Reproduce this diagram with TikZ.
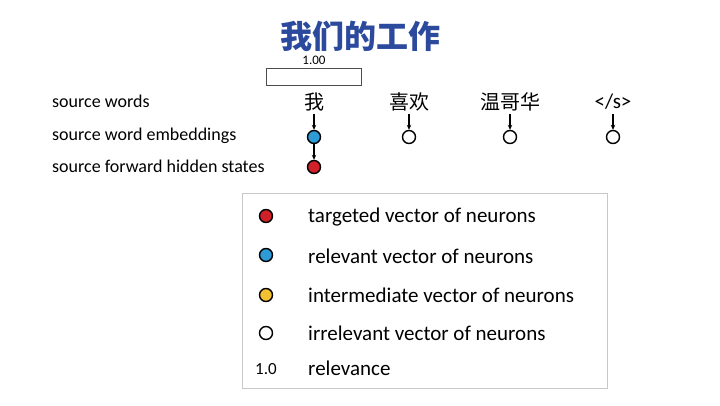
\documentclass[tikz,border=0pt]{standalone}
\usepackage{fontspec}
\setmainfont{Carlito}
\newfontfamily\cjk{Noto Sans CJK SC}
\usetikzlibrary{arrows.meta}
\definecolor{titleblue}{HTML}{2B4A9E}
\definecolor{nred}{HTML}{D0202A}
\definecolor{nblue}{HTML}{2E9BD6}
\definecolor{nyellow}{HTML}{F2C232}
\definecolor{boxgray}{HTML}{C8C8C8}
\tikzset{
  neuron/.style={circle, draw=black, line width=1.4pt, minimum size=13pt, inner sep=0pt},
  lbl/.style={anchor=west, inner sep=0pt, font=\fontsize{18}{20}\selectfont},
  word/.style={inner sep=0pt, font=\cjk\fontsize{20}{22}\selectfont},
  leg/.style={anchor=west, inner sep=0pt, font=\fontsize{21}{23}\selectfont},
  arr/.style={-{Stealth[length=5pt,width=4.5pt]}, line width=1.2pt}
}
\begin{document}
\begin{tikzpicture}[x=1pt,y=-1pt]
\useasboundingbox (0,0) rectangle (720,405);
\fill[white] (0,0) rectangle (720,405);
\node[font=\cjk\bfseries\fontsize{32}{34}\selectfont, text=titleblue, inner sep=0pt] (title) at (360,36) {我们的工作};
\node[font=\fontsize{13}{15}\selectfont, inner sep=0pt] (rel) at (314,60) {1.00};
\node[draw=black!70, line width=0.6pt, minimum width=95pt, minimum height=17pt, inner sep=0pt] (bar) at (313.5,77) {};
\node[lbl] (l1) at (52,101) {source words};
\node[lbl] (l2) at (52,136) {source word embeddings};
\node[lbl] (l3) at (52,166) {source forward hidden states};
\node[word] (w1) at (314,102) {我};
\node[word] (w2) at (409,102) {喜欢};
\node[word] (w3) at (510,102) {温哥华};
\node[word, font=\fontsize{21}{23}\selectfont] (w4) at (613,102) {</s>};
\node[neuron, fill=nblue] (e1) at (314,137) {};
\node[neuron, fill=white] (e2) at (409,137) {};
\node[neuron, fill=white] (e3) at (510,137) {};
\node[neuron, fill=white] (e4) at (613,137) {};
\node[neuron, fill=nred] (h1) at (314,167) {};
\foreach \i in {1,2,3,4} { \draw[arr] (w\i.south |- 0,114) -- (e\i.north); }
\draw[arr] (e1) -- (h1);
\node[draw=boxgray, line width=0.8pt, minimum width=365pt, minimum height=195pt, inner sep=0pt] (legend) at (424.5,290.5) {};
\node[neuron, fill=nred] (k1) at (266,216) {};
\node[neuron, fill=nblue] (k2) at (266,255) {};
\node[neuron, fill=nyellow] (k3) at (266,295) {};
\node[neuron, fill=white] (k4) at (266,333) {};
\node[inner sep=0pt, font=\fontsize{17}{19}\selectfont] (k5) at (266,369) {1.0};
\node[leg] (t1) at (308,217) {targeted vector of neurons};
\node[leg] (t2) at (308,256) {relevant vector of neurons};
\node[leg] (t3) at (308,295) {intermediate vector of neurons};
\node[leg] (t4) at (308,333) {irrelevant vector of neurons};
\node[leg] (t5) at (308,368) {relevance};
\end{tikzpicture}
\end{document}
